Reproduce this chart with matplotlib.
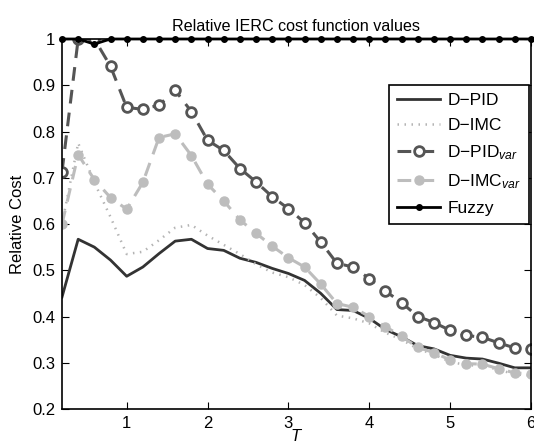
import numpy as np
import matplotlib
matplotlib.use('Agg')
import matplotlib.pyplot as plt

plt.rcParams['font.family'] = ['Liberation Sans', 'DejaVu Sans']
plt.rcParams['mathtext.fontset'] = 'custom'
plt.rcParams['mathtext.it'] = 'Liberation Sans:italic'
plt.rcParams['mathtext.rm'] = 'Liberation Sans'

T = [0.2, 0.4, 0.6, 0.8, 1.0, 1.2, 1.4, 1.6, 1.8, 2.0,
     2.2, 2.4, 2.6, 2.8, 3.0, 3.2, 3.4, 3.6, 3.8, 4.0,
     4.2, 4.4, 4.6, 4.8, 5.0, 5.2, 5.4, 5.6, 5.8, 6.0]

d_pid = [0.442, 0.567, 0.550, 0.522, 0.487, 0.507, 0.536, 0.563, 0.567, 0.547,
         0.543, 0.526, 0.517, 0.504, 0.493, 0.478, 0.450, 0.415, 0.413, 0.396,
         0.372, 0.356, 0.337, 0.330, 0.316, 0.310, 0.308, 0.299, 0.289, 0.289]
d_imc = [0.600, 0.775, 0.690, 0.615, 0.535, 0.540, 0.565, 0.592, 0.598, 0.575,
         0.555, 0.535, 0.513, 0.495, 0.485, 0.468, 0.440, 0.402, 0.396, 0.385,
         0.365, 0.350, 0.330, 0.318, 0.302, 0.295, 0.293, 0.285, 0.275, 0.272]
d_pid_var = [0.713, 1.000, 1.000, 0.941, 0.852, 0.848, 0.857, 0.889, 0.843, 0.781,
             0.759, 0.720, 0.691, 0.659, 0.633, 0.603, 0.561, 0.515, 0.507, 0.482,
             0.455, 0.430, 0.400, 0.387, 0.370, 0.359, 0.355, 0.343, 0.332, 0.330]
d_imc_var = [0.600, 0.750, 0.696, 0.657, 0.632, 0.690, 0.787, 0.795, 0.748, 0.686,
             0.650, 0.609, 0.580, 0.552, 0.527, 0.507, 0.470, 0.428, 0.420, 0.400,
             0.378, 0.357, 0.333, 0.322, 0.306, 0.298, 0.297, 0.287, 0.278, 0.276]
fuzzy = [1.0, 1.0, 0.989] + [1.0] * 27

fig = plt.figure(figsize=(5.34, 4.48), dpi=100)
ax = fig.add_axes([62 / 534, 39 / 448, 469 / 534, 370 / 448])

ax.plot(T, d_pid, '-', color='#333333', lw=2, label='D\u2212PID')
ax.plot(T, d_imc, '-', color='#b4b4b4', lw=1.8, dashes=(0.6, 2.2),
        label='D\u2212IMC')
ax.plot(T, d_pid_var, '--', color='#555555', lw=2.2, dashes=(4.5, 3),
        marker='o', ms=7, mfc='white', mec='#555555', mew=2,
        label='D\u2212PID$_{var}$')
ax.plot(T, d_imc_var, '--', color='#bdbdbd', lw=2.2, dashes=(4.5, 3),
        marker='o', ms=6.5, mfc='#bdbdbd', mec='#bdbdbd',
        label='D\u2212IMC$_{var}$')
ax.plot(T, fuzzy, '-', color='black', lw=2, marker='o', ms=4,
        mfc='black', mec='black', label='Fuzzy', clip_on=False)

ax.set_xlim(0.2, 6)
ax.set_ylim(0.2, 1)
ax.set_xticks([1, 2, 3, 4, 5, 6])
ax.set_yticks([0.2, 0.3, 0.4, 0.5, 0.6, 0.7, 0.8, 0.9, 1])
ax.set_yticklabels(['0.2', '0.3', '0.4', '0.5', '0.6', '0.7', '0.8', '0.9', '1'])
ax.tick_params(direction='in', top=True, right=True, labelsize=12, length=5,
               pad=5)
for s in ax.spines.values():
    s.set_linewidth(1.2)

ax.set_title('Relative IERC cost function values', fontsize=11.6, pad=6)
ax.set_xlabel('$T$', fontsize=12, labelpad=-2)
ax.set_ylabel('Relative Cost', fontsize=12, labelpad=5)

leg = ax.legend(loc='upper right', bbox_to_anchor=(0.996, 0.876),
                fontsize=12.5, handlelength=2.5, fancybox=False, framealpha=1,
                edgecolor='black', borderpad=0.45, labelspacing=0.58,
                handletextpad=0.4, borderaxespad=0)
leg.get_frame().set_linewidth(1.2)

fig.savefig('out.png', dpi=100)
